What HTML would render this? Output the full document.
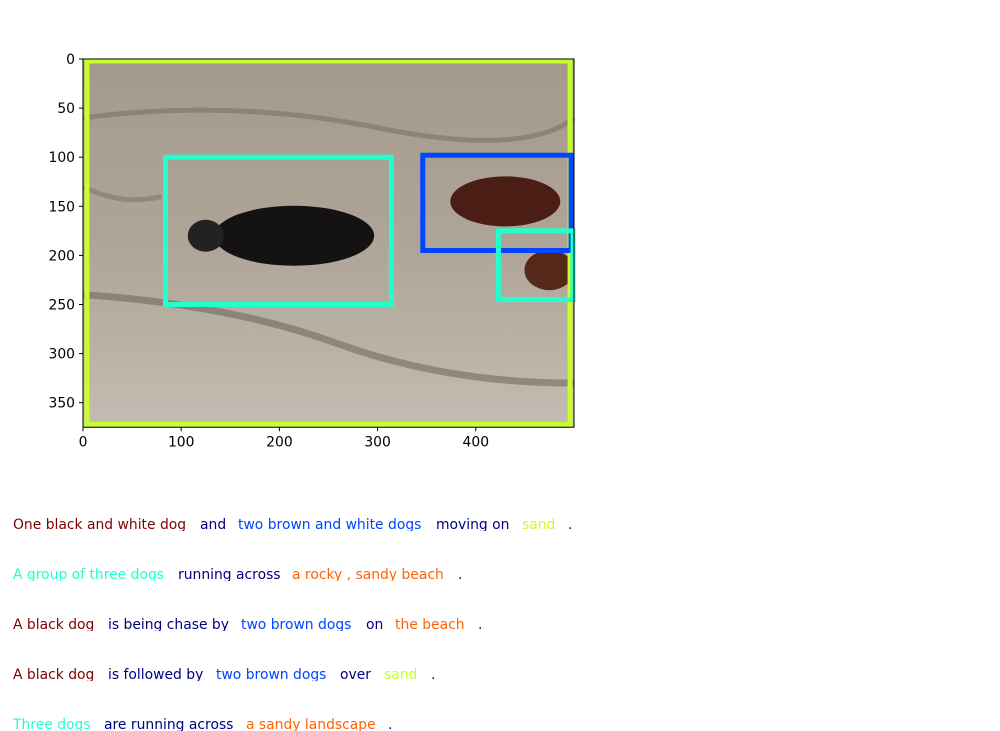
<!DOCTYPE html>
<html><head><meta charset="utf-8"><style>
body{margin:0;background:#fff;width:1000px;height:730px;overflow:hidden;position:relative;font-family:"DejaVu Sans","Liberation Sans",sans-serif}
.ln{position:absolute;left:0;width:1000px;height:13px;overflow:hidden;font-size:13.9px;line-height:15px}
.ln span{position:absolute;top:0;white-space:pre}
.r{color:#800000}.n{color:#000080}.b{color:#0045ff}.c{color:#23ffcc}.o{color:#ff6400}.y{color:#c8ff2a}
</style></head><body>
<svg id="chart" width="1000" height="500" style="position:absolute;left:0;top:0" font-family="DejaVu Sans, Liberation Sans, sans-serif" font-size="13.9">
<defs>
<linearGradient id="sand" x1="0" y1="0" x2="0" y2="1">
<stop offset="0" stop-color="#a39a8d"/><stop offset="0.5" stop-color="#aea497"/><stop offset="1" stop-color="#c4bcb2"/>
</linearGradient>
</defs>
<g id="img"></g>
<g id="boxes"></g>
<g id="axes"></g>
</svg>
<div class="ln" style="top:518px"><span class="r" style="left:13px">One black and white dog</span><span class="n" style="left:200px">and</span><span class="b" style="left:238px">two brown and white dogs</span><span class="n" style="left:436px">moving on</span><span class="y" style="left:522px">sand</span><span class="n" style="left:568px">.</span></div>
<div class="ln" style="top:568px"><span class="c" style="left:13px">A group of three dogs</span><span class="n" style="left:178px">running across</span><span class="o" style="left:292px">a rocky , sandy beach</span><span class="n" style="left:458px">.</span></div>
<div class="ln" style="top:618px"><span class="r" style="left:13px">A black dog</span><span class="n" style="left:108px">is being chase by</span><span class="b" style="left:241px">two brown dogs</span><span class="n" style="left:366px">on</span><span class="o" style="left:395px">the beach</span><span class="n" style="left:478px">.</span></div>
<div class="ln" style="top:668px"><span class="r" style="left:13px">A black dog</span><span class="n" style="left:108px">is followed by</span><span class="b" style="left:216px">two brown dogs</span><span class="n" style="left:340px">over</span><span class="y" style="left:384px">sand</span><span class="n" style="left:431px">.</span></div>
<div class="ln" style="top:718px"><span class="c" style="left:13px">Three dogs</span><span class="n" style="left:104px">are running across</span><span class="o" style="left:246px">a sandy landscape</span><span class="n" style="left:388px">.</span></div>
<script>
const xTicks=[0,100,200,300,400];
const yTicks=[0,50,100,150,200,250,300,350];
const boxX0=[4,84,346,423];
const boxY0=[2,100,98,175];
const boxX1=[496,314,497,499];
const boxY1=[372,250,195,245];
const boxColors=["#c8ff2a","#23ffcc","#0045ff","#23ffcc"];
const boxNames=["box-sand","box-black-dog","box-brown-dogs","box-brown-dog-2"];
const L=83,T=59,S=0.982,W=500,H=375;
const sx=v=>L+v*S, sy=v=>T+v*S;
const NS="http://www.w3.org/2000/svg";
function mk(t,a,p){const e=document.createElementNS(NS,t);for(const k in a)e.setAttribute(k,a[k]);p.appendChild(e);return e;}
const img=document.getElementById('img');
mk('rect',{x:sx(0),y:sy(0),width:W*S,height:H*S,fill:'url(#sand)'},img);
mk('path',{d:`M${sx(0)} ${sy(60)} Q${sx(150)} ${sy(40)} ${sx(300)} ${sy(70)} T${sx(500)} ${sy(60)}`,stroke:'#6e6254',"stroke-width":5,fill:'none',opacity:0.45},img);
mk('path',{d:`M${sx(0)} ${sy(240)} Q${sx(150)} ${sy(250)} ${sx(260)} ${sy(290)} T${sx(500)} ${sy(330)}`,stroke:'#5e5044',"stroke-width":7,fill:'none',opacity:0.45},img);
mk('path',{d:`M${sx(0)} ${sy(130)} Q${sx(40)} ${sy(150)} ${sx(80)} ${sy(140)}`,stroke:'#6e6254',"stroke-width":5,fill:'none',opacity:0.4},img);
mk('ellipse',{cx:sx(215),cy:sy(180),rx:80,ry:30,fill:'#151214'},img);
mk('ellipse',{cx:sx(125),cy:sy(180),rx:18,ry:16,fill:'#222'},img);
mk('ellipse',{cx:sx(430),cy:sy(145),rx:55,ry:25,fill:'#4a1e14'},img);
mk('ellipse',{cx:sx(475),cy:sy(215),rx:25,ry:20,fill:'#55281a'},img);
const bx=document.getElementById('boxes');
for(let i=0;i<boxX0.length;i++){
 const r=mk('rect',{x:sx(boxX0[i]),y:sy(boxY0[i]),width:(boxX1[i]-boxX0[i])*S,height:(boxY1[i]-boxY0[i])*S,fill:'none',stroke:boxColors[i],"stroke-width":5},bx);
 
 
}
const ax=document.getElementById('axes');
mk('rect',{x:sx(0),y:sy(0),width:W*S,height:H*S,fill:'none',stroke:'#000','stroke-width':1},ax);
xTicks.forEach(v=>{
 mk('line',{x1:sx(v),x2:sx(v),y1:sy(H),y2:sy(H)+4,stroke:'#000'},ax);
 const t=mk('text',{x:sx(v),y:sy(H)+19,'text-anchor':'middle',fill:'#000'},ax);t.textContent=v;
 
 
});
yTicks.forEach(v=>{
 mk('line',{x1:L-4,x2:L,y1:sy(v),y2:sy(v),stroke:'#000'},ax);
 const t=mk('text',{x:L-8,y:sy(v)+5,'text-anchor':'end',fill:'#000'},ax);t.textContent=v;
 
 
});
</script>
</body></html>
